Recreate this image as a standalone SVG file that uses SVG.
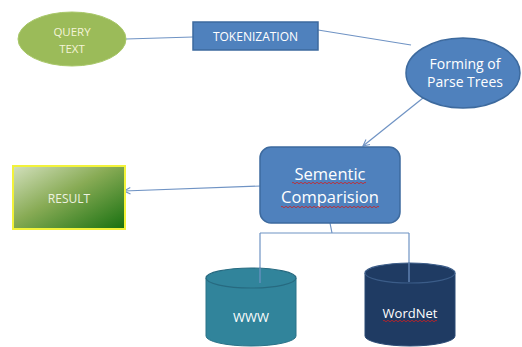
<svg xmlns="http://www.w3.org/2000/svg" width="522" height="347" viewBox="0 0 522 347">
  <defs>
    <style>
      .lbl { font-family: "Open Sans", "Liberation Sans", sans-serif; text-anchor: middle; dominant-baseline: central; }
      .conn { fill: none; stroke: #6f93c4; stroke-width: 1.2; }
      .blue { fill: #4f81bd; stroke: #3d6a9e; stroke-width: 1.5; }
      .squig { fill: none; stroke: #d02020; stroke-width: 0.8; }
    </style>
    <marker id="arrow" viewBox="0 0 10 10" refX="9" refY="5" markerWidth="8" markerHeight="8" orient="auto" markerUnits="userSpaceOnUse">
      <path d="M1,1 L9,5 L1,9" fill="none" stroke="#6f93c4" stroke-width="1.4"/>
    </marker>
    <linearGradient id="resultFill" x1="0" y1="0" x2="1" y2="1">
      <stop offset="0" stop-color="#d3e0bd"/>
      <stop offset="0.45" stop-color="#88ab55"/>
      <stop offset="1" stop-color="#17700f"/>
    </linearGradient>
  </defs>

  <rect width="522" height="347" fill="#ffffff"/>

  <g id="connectors">
    <path class="conn" d="M126,39 L193,37"/>
    <path class="conn" d="M318,30 L411,45"/>
    <path class="conn" d="M423,98 L363,146" marker-end="url(#arrow)"/>
    <path class="conn" d="M261,186 L124,191" marker-end="url(#arrow)"/>
    <path class="conn" d="M330,223 L332,233 M260,233 L409,233 M260,233 L260,283 M409,233 L409,282"/>
  </g>

  <g id="query-text">
    <ellipse cx="72" cy="39" rx="54" ry="27" fill="#9bbb59" stroke="#a9c86a" stroke-width="1"/>
    <text class="lbl" x="72" y="31" font-size="11.500" fill="#f4f4d8">QUERY</text>
    <text class="lbl" x="72" y="48" font-size="11.500" fill="#f4f4d8">TEXT</text>
  </g>

  <g id="tokenization">
    <rect class="blue" x="193" y="22" width="125" height="28"/>
    <text class="lbl" x="255.500" y="36" font-size="12" fill="#ffffff">TOKENIZATION</text>
  </g>

  <g id="parse-trees">
    <ellipse class="blue" cx="463" cy="73" rx="57" ry="35"/>
    <text class="lbl" x="465" y="63" font-size="14" fill="#ffffff">Forming of</text>
    <text class="lbl" x="465" y="81" font-size="14" fill="#ffffff">Parse Trees</text>
  </g>

  <g id="semantic-comparison">
    <rect class="blue" x="260" y="147" width="140" height="76" rx="11"/>
    <text class="lbl" x="330" y="173" font-size="16.500" fill="#ffffff">Sementic</text>
    <text class="lbl" x="330" y="196" font-size="16.500" fill="#ffffff">Comparision</text>
    <path class="squig" d="M292,183 q1,-1.5 2,0 t2,0 t2,0 t2,0 t2,0 t2,0 t2,0 t2,0 t2,0 t2,0 t2,0 t2,0 t2,0 t2,0 t2,0 t2,0 t2,0 t2,0 t2,0 t2,0 t2,0 t2,0 t2,0 t2,0 t2,0 t2,0 t2,0 t2,0 t2,0 t2,0 t2,0 t2,0 t2,0 t2,0 t2,0 t2,0 t2,0"/>
    <path class="squig" d="M281,207 q1,-1.5 2,0 t2,0 t2,0 t2,0 t2,0 t2,0 t2,0 t2,0 t2,0 t2,0 t2,0 t2,0 t2,0 t2,0 t2,0 t2,0 t2,0 t2,0 t2,0 t2,0 t2,0 t2,0 t2,0 t2,0 t2,0 t2,0 t2,0 t2,0 t2,0 t2,0 t2,0 t2,0 t2,0 t2,0 t2,0 t2,0 t2,0 t2,0 t2,0 t2,0 t2,0 t2,0 t2,0 t2,0 t2,0 t2,0 t2,0 t2,0 t2,0"/>
  </g>

  <g id="result">
    <rect x="13" y="166" width="112" height="63" fill="url(#resultFill)" stroke="#f2f23a" stroke-width="2"/>
    <text class="lbl" x="69" y="198" font-size="12" fill="#eef2e0">RESULT</text>
  </g>

  <g id="www">
    <path d="M206,278 L206,336 A45,10 0 0 0 296,336 L296,278 Z" fill="#31849b" stroke="#2a7288" stroke-width="1"/>
    <ellipse cx="251" cy="278" rx="45" ry="10" fill="#31849b" stroke="#276a80" stroke-width="1.2"/>
    <path class="conn" d="M260,268 L260,283"/>
    <text class="lbl" x="251" y="317" font-size="13" fill="#ffffff">WWW</text>
  </g>

  <g id="wordnet">
    <path d="M365,273 L365,336 A45,10 0 0 0 455,336 L455,273 Z" fill="#1f3b63" stroke="#2b4a75" stroke-width="1"/>
    <ellipse cx="410" cy="273" rx="45" ry="10" fill="#1f3b63" stroke="#3b5c88" stroke-width="1.2"/>
    <path class="conn" d="M409,263 L409,282"/>
    <text class="lbl" x="410" y="313" font-size="13" fill="#ffffff">WordNet</text>
    <path class="squig" d="M383,321 q1,-1.5 2,0 t2,0 t2,0 t2,0 t2,0 t2,0 t2,0 t2,0 t2,0 t2,0 t2,0 t2,0 t2,0 t2,0 t2,0 t2,0 t2,0 t2,0 t2,0 t2,0 t2,0 t2,0 t2,0 t2,0 t2,0 t2,0 t2,0"/>
  </g>
</svg>
